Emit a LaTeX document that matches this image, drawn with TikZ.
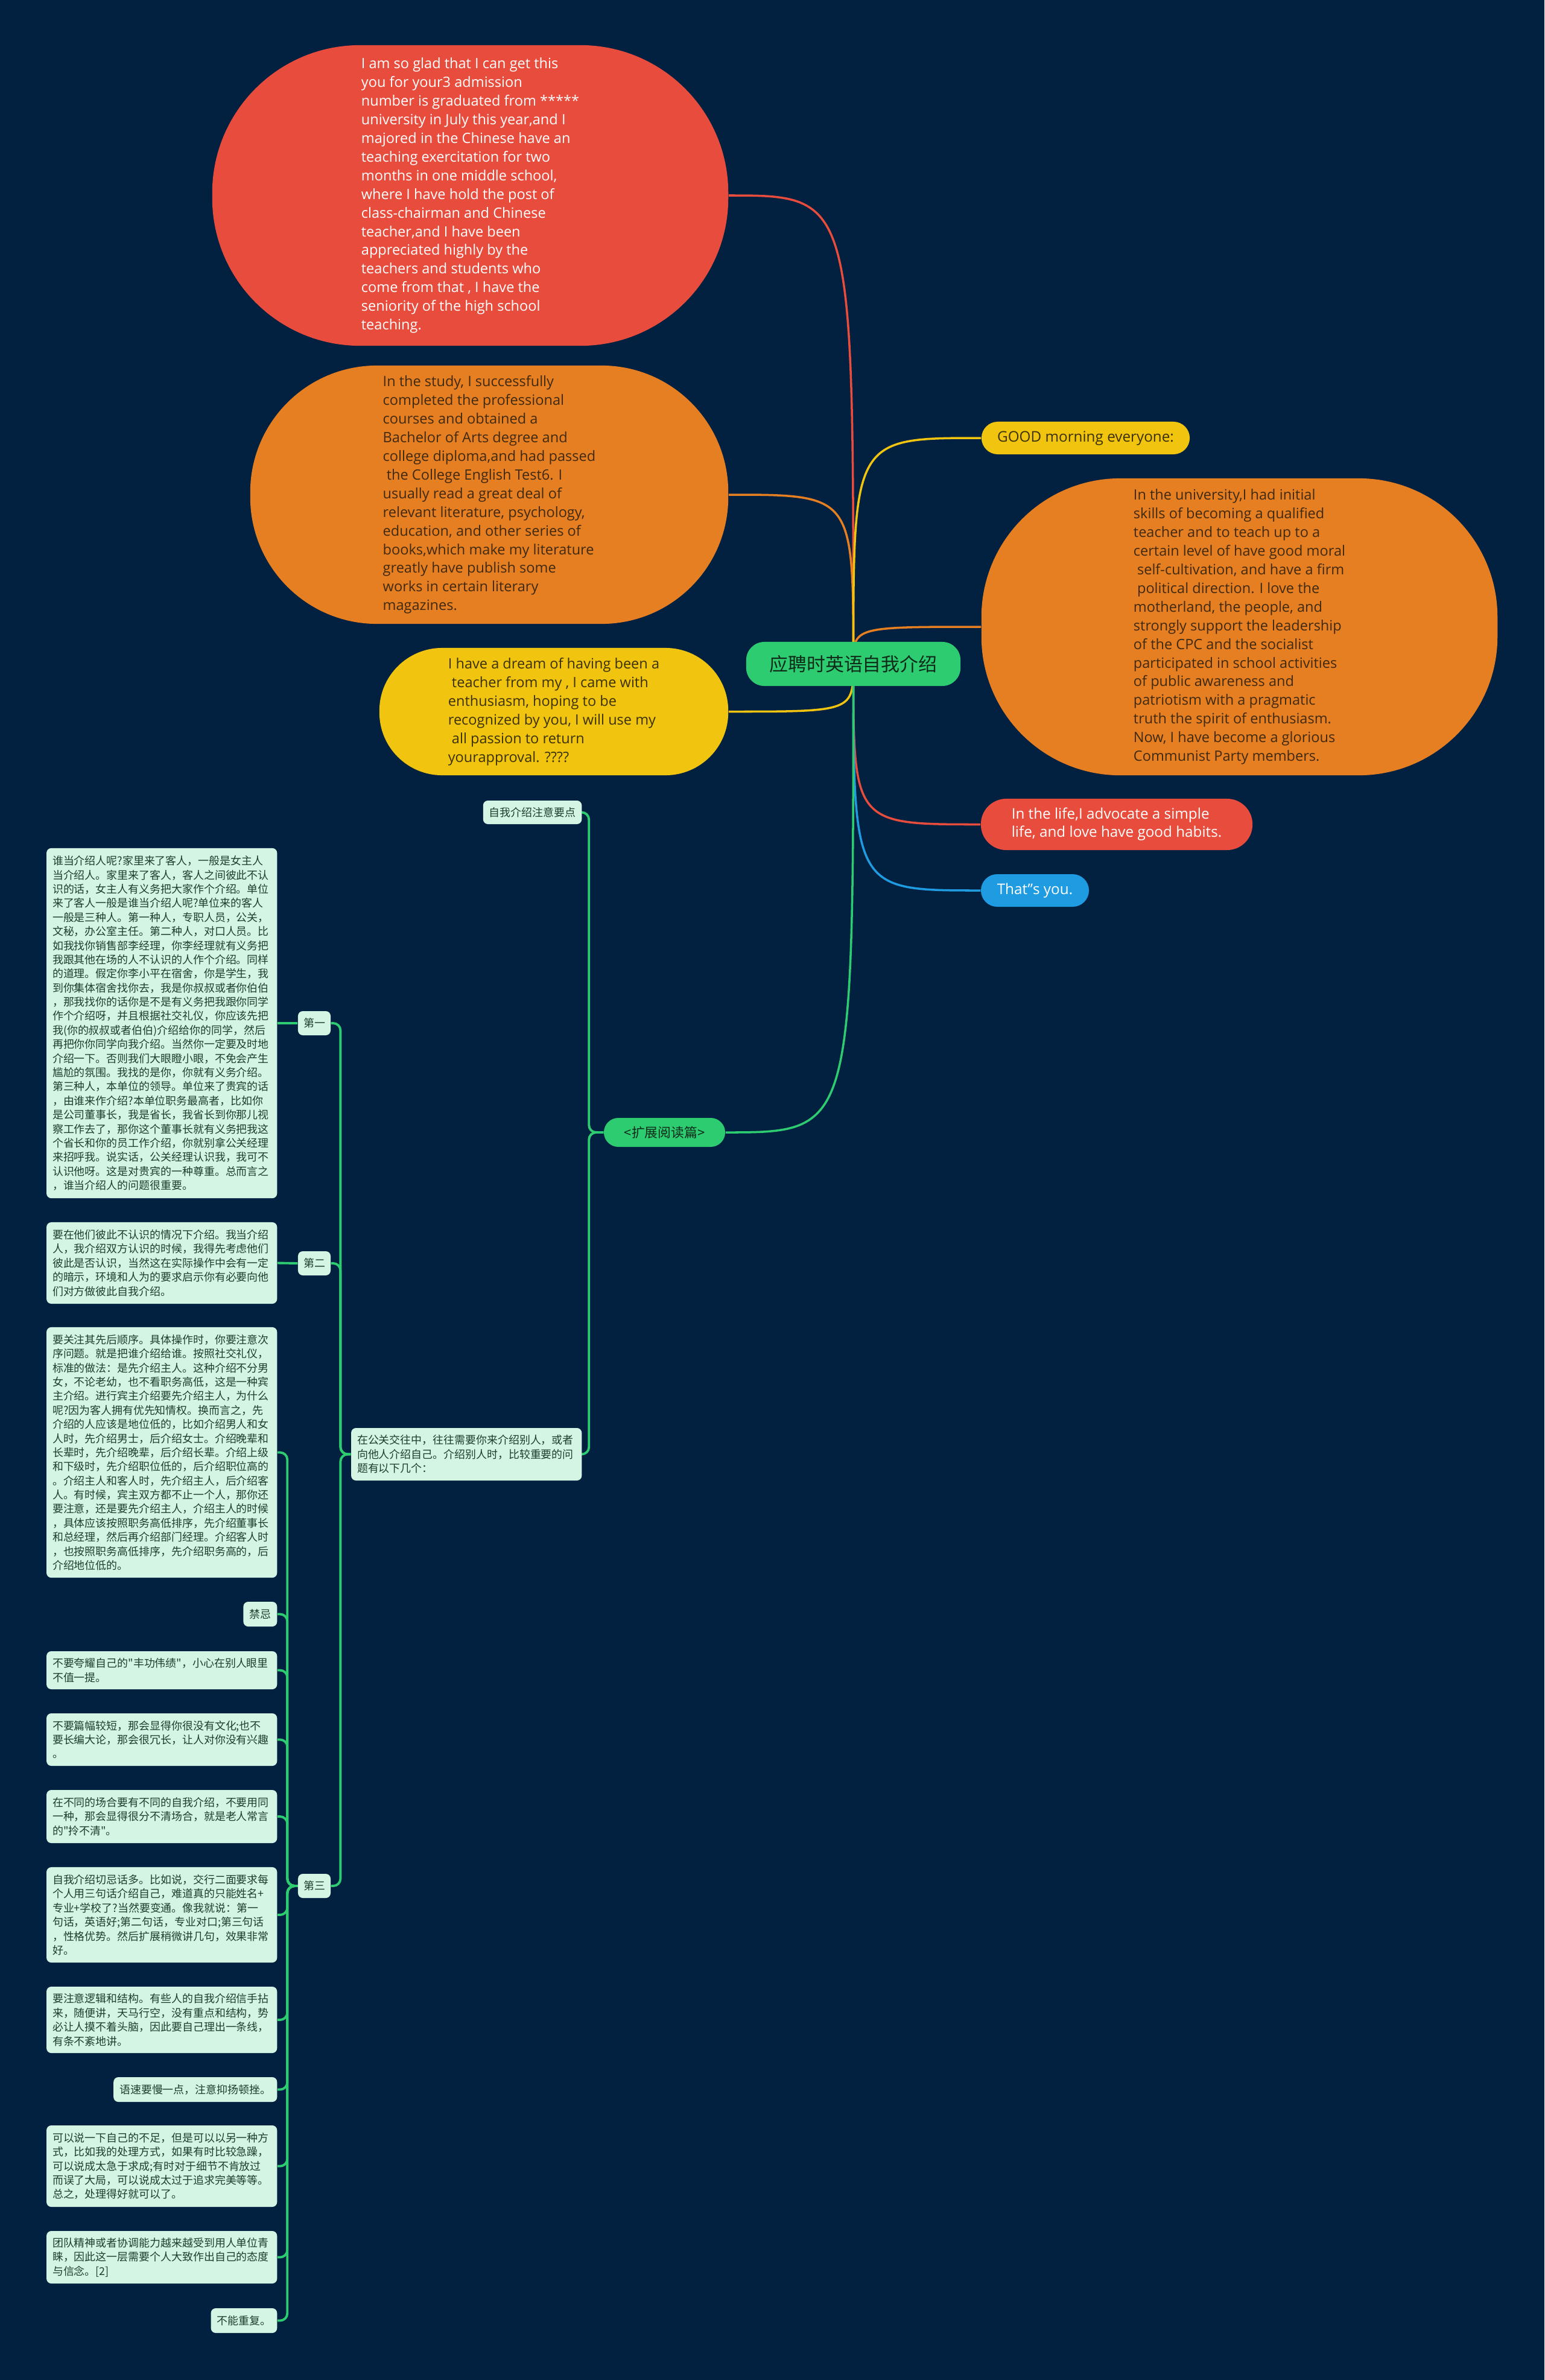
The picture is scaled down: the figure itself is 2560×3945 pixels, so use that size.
\documentclass[tikz,border=0pt]{standalone}
\usepackage{fontspec}
\setmainfont{Open Sans}
\newfontfamily\cjk{Noto Sans CJK SC}
\definecolor{bgnavy}{HTML}{022140}
\definecolor{fRed}{HTML}{E74C3C}
\definecolor{fOrange}{HTML}{E67E22}
\definecolor{fYellow}{HTML}{F1C40F}
\definecolor{fGreen}{HTML}{2ECC71}
\definecolor{fBlue}{HTML}{1E9BE1}
\definecolor{mint}{HTML}{D4F5E3}
\definecolor{leafink}{HTML}{1F3D2C}
\definecolor{brownink}{HTML}{3F2A10}
\definecolor{yelink}{HTML}{3B3105}
\definecolor{rootink}{HTML}{0E2B1A}
\pgfdeclarelayer{bg}
\pgfdeclarelayer{links}
\pgfsetlayers{bg,links,main}

\tikzset{
  bubble/.style={inner sep=0pt, align=left, font=\fontsize{6.7pt}{8.8pt}\selectfont},
  pillbox/.style={inner sep=0pt, align=left, font=\fontsize{6.9pt}{8.5pt}\selectfont},
  rootbox/.style={fill=fGreen, text=rootink, rounded corners=0.3cm, minimum width=3.55cm, minimum height=0.73cm, inner sep=0pt, font=\cjk\fontsize{8.8pt}{10pt}\selectfont},
  leafbox/.style={fill=mint, text=leafink, rounded corners=0.08cm, inner xsep=0.1cm, inner ysep=0pt, align=left, anchor=east, font=\cjk\fontsize{5.1pt}{6.65pt}\selectfont},
  wideleaf/.style={leafbox, text width=3.62cm},
  tagbox/.style={leafbox, anchor=center, minimum width=0.54cm, minimum height=0.4cm, inner xsep=0pt},
  branch/.style={line width=1pt},
  bus/.style={draw=fGreen, line width=1.1pt, rounded corners=0.12cm}
}

\begin{document}
\begin{tikzpicture}[x=0.01cm,y=-0.01cm]
\useasboundingbox (0,0) rectangle (2560,3945);
\begin{pgfonlayer}{bg}
\fill[bgnavy] (0,0) rectangle (2560,3945);
\end{pgfonlayer}

\node[rootbox] (root) at (1414.5,1100.5) {应聘时英语自我介绍};

\node[bubble, fill=fRed, text=white, minimum width=8.55cm, minimum height=4.98cm, rounded corners=2.45cm] (glad) at (779.5,324) {I am so glad that I can get this\\you for your3 admission\\number is graduated from *****\\university in July this year,and I\\majored in the Chinese have an\\teaching exercitation for two\\months in one middle school,\\where I have hold the post of\\class-chairman and Chinese\\teacher,and I have been\\appreciated highly by the\\teachers and students who\\come from that , I have the\\seniority of the high school\\teaching.};
\node[bubble, fill=fOrange, text=brownink, minimum width=7.92cm, minimum height=4.28cm, rounded corners=2.1cm] (study) at (811,820) {In the study, I successfully\\completed the professional\\courses and obtained a\\Bachelor of Arts degree and\\college diploma,and had passed\\\ the College English Test6. I\\usually read a great deal of\\relevant literature, psychology,\\education, and other series of\\books,which make my literature\\greatly have publish some\\works in certain literary\\magazines.};
\node[bubble, fill=fYellow, text=yelink, minimum width=5.78cm, minimum height=2.11cm, rounded corners=1.04cm] (dream) at (918,1179.5) {I have a dream of having been a\\\ teacher from my , I came with\\enthusiasm, hoping to be\\recognized by you, I will use my\\\ all passion to return\\yourapproval. ????};

\node[pillbox, fill=fYellow, text=yelink, minimum width=3.45cm, minimum height=0.54cm, rounded corners=0.27cm] (morning) at (1799.5,726) {GOOD morning everyone:};
\node[bubble, fill=fOrange, text=brownink, minimum width=8.55cm, minimum height=4.92cm, rounded corners=2.3cm] (univ) at (2054.5,1039) {In the university,I had initial\\skills of becoming a qualified\\teacher and to teach up to a\\certain level of have good moral\\\ self-cultivation, and have a firm\\\ political direction. I love the\\motherland, the people, and\\strongly support the leadership\\of the CPC and the socialist\\participated in school activities\\of public awareness and\\patriotism with a pragmatic\\truth the spirit of enthusiasm.\\Now, I have become a glorious\\Communist Party members.};
\node[pillbox, fill=fRed, text=white, minimum width=4.5cm, minimum height=0.85cm, rounded corners=0.42cm] (life) at (1851,1366.5) {In the life,I advocate a simple\\life, and love have good habits.};
\node[pillbox, fill=fBlue, text=white, minimum width=1.79cm, minimum height=0.54cm, rounded corners=0.27cm] (you) at (1715.5,1476) {That"s you.};

\node[rootbox, minimum width=2.01cm, minimum height=0.48cm, rounded corners=0.24cm, font=\cjk\fontsize{6.2pt}{7pt}\selectfont] (ext) at (1101.5,1877) {<扩展阅读篇>};
\node[leafbox, minimum height=0.39cm] (tips) at (965,1346.5) {自我介绍注意要点};
\node[wideleaf, minimum height=0.87cm] (pr) at (965,2410.5) {在公关交往中，往往需要你来介绍别人，或者\\向他人介绍自己。介绍别人时，比较重要的问\\题有以下几个：};

\node[tagbox] (d1) at (521,1696) {第一};
\node[tagbox] (d2) at (521,2094) {第二};
\node[tagbox] (d3) at (521,3126) {第三};

\node[wideleaf, minimum height=5.8cm] (t1) at (460,1696) {谁当介绍人呢?家里来了客人，一般是女主人\\当介绍人。家里来了客人，客人之间彼此不认\\识的话，女主人有义务把大家作个介绍。单位\\来了客人一般是谁当介绍人呢?单位来的客人\\一般是三种人。第一种人，专职人员，公关，\\文秘，办公室主任。第二种人，对口人员。比\\如我找你销售部李经理，你李经理就有义务把\\我跟其他在场的人不认识的人作个介绍。同样\\的道理。假定你李小平在宿舍，你是学生，我\\到你集体宿舍找你去，我是你叔叔或者你伯伯\\，那我找你的话你是不是有义务把我跟你同学\\作个介绍呀，并且根据社交礼仪，你应该先把\\我(你的叔叔或者伯伯)介绍给你的同学，然后\\再把你你同学向我介绍。当然你一定要及时地\\介绍一下。否则我们大眼瞪小眼，不免会产生\\尴尬的氛围。我找的是你，你就有义务介绍。\\第三种人，本单位的领导。单位来了贵宾的话\\，由谁来作介绍?本单位职务最高者，比如你\\是公司董事长，我是省长，我省长到你那儿视\\察工作去了，那你这个董事长就有义务把我这\\个省长和你的员工作介绍，你就别拿公关经理\\来招呼我。说实话，公关经理认识我，我可不\\认识他呀。这是对贵宾的一种尊重。总而言之\\，谁当介绍人的问题很重要。};
\node[wideleaf, minimum height=1.35cm] (t2) at (460,2093.5) {要在他们彼此不认识的情况下介绍。我当介绍\\人，我介绍双方认识的时候，我得先考虑他们\\彼此是否认识，当然这在实际操作中会有一定\\的暗示，环境和人为的要求启示你有必要向他\\们对方做彼此自我介绍。};
\node[wideleaf, minimum height=4.15cm] (t3) at (460,2407.5) {要关注其先后顺序。具体操作时，你要注意次\\序问题。就是把谁介绍给谁。按照社交礼仪，\\标准的做法：是先介绍主人。这种介绍不分男\\女，不论老幼，也不看职务高低，这是一种宾\\主介绍。进行宾主介绍要先介绍主人，为什么\\呢?因为客人拥有优先知情权。换而言之，先\\介绍的人应该是地位低的，比如介绍男人和女\\人时，先介绍男士，后介绍女士。介绍晚辈和\\长辈时，先介绍晚辈，后介绍长辈。介绍上级\\和下级时，先介绍职位低的，后介绍职位高的\\。介绍主人和客人时，先介绍主人，后介绍客\\人。有时候，宾主双方都不止一个人，那你还\\要注意，还是要先介绍主人，介绍主人的时候\\，具体应该按照职务高低排序，先介绍董事长\\和总经理，然后再介绍部门经理。介绍客人时\\，也按照职务高低排序，先介绍职务高的，后\\介绍地位低的。};

\node[leafbox, minimum height=0.41cm] (jj) at (460,2675.5) {禁忌};
\node[wideleaf, minimum height=0.63cm] (k1) at (460,2768.5) {不要夸耀自己的"丰功伟绩"，小心在别人眼里\\不值一提。};
\node[wideleaf, minimum height=0.87cm] (k2) at (460,2883.5) {不要篇幅较短，那会显得你很没有文化;也不\\要长编大论，那会很冗长，让人对你没有兴趣\\。};
\node[wideleaf, minimum height=0.88cm] (k3) at (460,3011) {在不同的场合要有不同的自我介绍，不要用同\\一种，那会显得很分不清场合，就是老人常言\\的"拎不清"。};
\node[wideleaf, minimum height=1.58cm] (k4) at (460,3174) {自我介绍切忌话多。比如说，交行二面要求每\\个人用三句话介绍自己，难道真的只能姓名+\\专业+学校了?当然要变通。像我就说：第一\\句话，英语好;第二句话，专业对口;第三句话\\，性格优势。然后扩展稍微讲几句，效果非常\\好。};
\node[wideleaf, minimum height=1.1cm] (k5) at (460,3348) {要注意逻辑和结构。有些人的自我介绍信手拈\\来，随便讲，天马行空，没有重点和结构，势\\必让人摸不着头脑，因此要自己理出一条线，\\有条不紊地讲。};
\node[leafbox, minimum height=0.41cm] (k6) at (460,3463.5) {语速要慢一点，注意抑扬顿挫。};
\node[wideleaf, minimum height=1.35cm] (k7) at (460,3590.5) {可以说一下自己的不足，但是可以以另一种方\\式，比如我的处理方式，如果有时比较急躁，\\可以说成太急于求成;有时对于细节不肯放过\\而误了大局，可以说成太过于追求完美等等。\\总之，处理得好就可以了。};
\node[wideleaf, minimum height=0.87cm] (k8) at (460,3741.5) {团队精神或者协调能力越来越受到用人单位青\\睐，因此这一层需要个人大致作出自己的态度\\与信念。[2]};
\node[leafbox, minimum height=0.41cm] (k9) at (460,3846.5) {不能重复。};

\begin{pgfonlayer}{links}
\draw[branch, fRed] (root.center) .. controls (root.center |- glad.east) .. (glad.east);
\draw[branch, fOrange] (root.center) .. controls (root.center |- study.east) .. (study.east);
\draw[branch, fYellow] (root.center) .. controls (root.center |- dream.east) .. (dream.east);
\draw[branch, fYellow] (root.center) .. controls (root.center |- morning.west) .. (morning.west);
\draw[branch, fOrange] (root.center) .. controls (root.center |- univ.west) .. (univ.west);
\draw[branch, fRed] (root.center) .. controls (root.center |- life.west) .. (life.west);
\draw[branch, fBlue] (root.center) .. controls (root.center |- you.west) .. (you.west);
\draw[branch, fGreen] (root.center) .. controls (root.center |- ext.east) .. (ext.east);
\draw[bus] (ext.west) -- ++(-24,0) |- (tips.east);
\draw[bus] (ext.west) -- ++(-24,0) |- (pr.east);
\foreach \d in {d1,d2,d3}
  \draw[bus] (pr.west) -- ++(-17,0) |- (\d.east);
\draw[bus] (d1.west) -- (t1.east);
\draw[bus] (d2.west) -- (t2.east);
\foreach \k in {t3,jj,k1,k2,k3,k4,k5,k6,k7,k8,k9}
  \draw[bus] (d3.west) -- ++(-17,0) |- (\k.east);
\end{pgfonlayer}
\end{tikzpicture}
\end{document}
